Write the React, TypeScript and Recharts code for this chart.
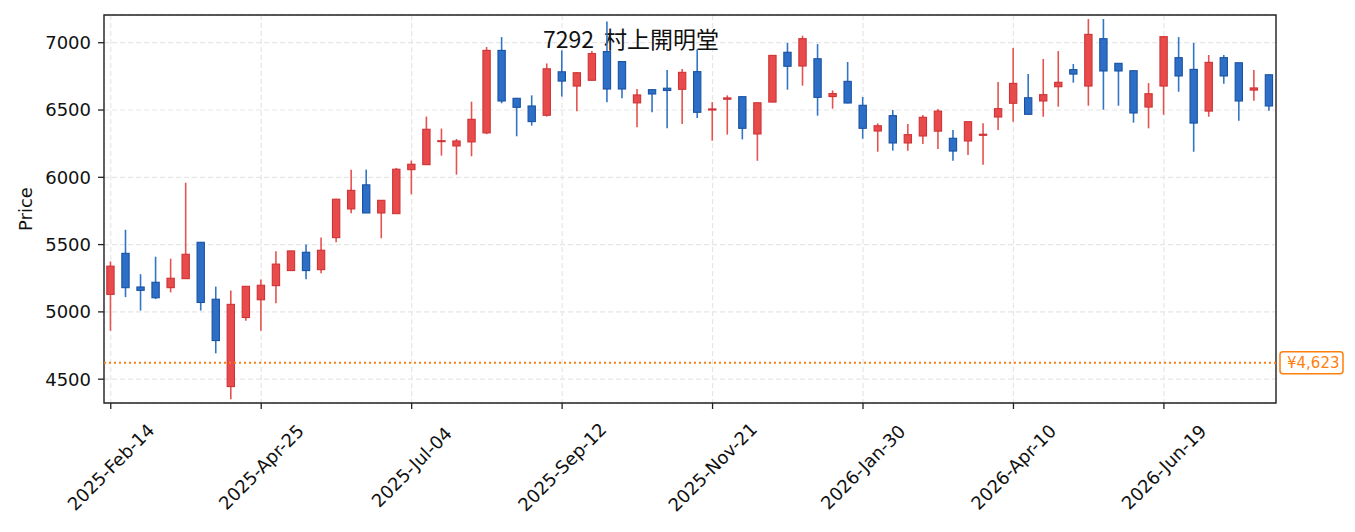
import { Bar, CartesianGrid, ComposedChart, ReferenceArea, ReferenceLine, XAxis, YAxis } from "recharts";

// weekly candles, one per index (first week 2025-Feb-14)
const opens = [
  5130, 5435, 5185, 5220, 5180, 5247, 5517, 5094, 4445, 4958, 5090, 5195, 5307, 5443, 5314, 5552, 5765, 5944, 5735, 5730,
  6057, 6094, 6265, 6233, 6263, 6330, 6943, 6587, 6530, 6461, 6784, 6678, 6721, 6934, 6860, 6553, 6651, 6662, 6654, 6785,
  6500, 6580, 6599, 6322, 6559, 6929, 6827, 6881, 6600, 6713, 6535, 6344, 6458, 6255, 6307, 6343, 6290, 6270, 6312, 6448,
  6550, 6591, 6567, 6673, 6800, 6678, 7030, 6847, 6792, 6522, 6678, 6889, 6802, 6492, 6889, 6851, 6648, 6762,
];
const highs = [
  5375, 5610, 5280, 5410, 5395, 5960, 5520, 5188, 5158, 5190, 5240, 5450, 5455, 5500, 5552, 5840, 6057, 6057, 5830, 6070,
  6124, 6451, 6362, 6285, 6562, 6968, 7042, 6590, 6609, 6846, 6943, 6778, 6938, 7158, 6860, 6656, 6655, 6797, 6805, 6951,
  6559, 6609, 6600, 6555, 6906, 6998, 7052, 6990, 6646, 6857, 6597, 6401, 6500, 6396, 6463, 6507, 6351, 6415, 6401, 6708,
  6961, 6767, 6879, 6938, 6842, 7176, 7176, 6847, 6792, 6700, 7045, 7042, 6998, 6909, 6909, 6851, 6797, 6762,
];
const lows = [
  4860, 5110, 5010, 5095, 5145, 5245, 5010, 4692, 4350, 4935, 4860, 5065, 5305, 5242, 5287, 5517, 5733, 5735, 5547, 5728,
  5874, 6094, 6161, 6020, 6156, 6320, 6550, 6305, 6384, 6451, 6600, 6491, 6715, 6558, 6587, 6372, 6483, 6364, 6396, 6441,
  6272, 6317, 6282, 6123, 6559, 6651, 6681, 6458, 6510, 6550, 6287, 6190, 6198, 6198, 6247, 6210, 6123, 6166, 6093, 6351,
  6413, 6466, 6450, 6525, 6703, 6532, 6502, 6532, 6406, 6364, 6465, 6636, 6190, 6450, 6695, 6420, 6569, 6495,
];
const closes = [
  5340, 5180, 5160, 5105, 5250, 5428, 5070, 4787, 5056, 5190, 5198, 5355, 5453, 5307, 5458, 5837, 5903, 5735, 5829, 6060,
  6097, 6357, 6272, 6270, 6431, 6943, 6567, 6520, 6414, 6806, 6715, 6777, 6919, 6656, 6656, 6612, 6619, 6645, 6780, 6483,
  6508, 6590, 6364, 6554, 6906, 6825, 7030, 6594, 6622, 6552, 6364, 6383, 6255, 6317, 6446, 6492, 6195, 6413, 6320, 6510,
  6698, 6468, 6614, 6706, 6767, 7062, 6790, 6790, 6478, 6621, 7045, 6753, 6403, 6854, 6753, 6567, 6664, 6530,
];

const tickIdx = [0, 10, 20, 30, 40, 50, 60, 70];
const tickLabels = ["2025-Feb-14", "2025-Apr-25", "2025-Jul-04", "2025-Sep-12", "2025-Nov-21", "2026-Jan-30", "2026-Apr-10", "2026-Jun-19"];
const priceTicks = [4500, 5000, 5500, 6000, 6500, 7000];
const refPrice = 4623;
const title = ["7292", "村上開明堂"];

const yDomain = [4323, 7206];
const xDomain = [-0.45, opens.length - 0.55];

const UP = { fill: "#e84b4b", edge: "#cf3336", wick: "#e5534f" };
const DOWN = { fill: "#2d6fc6", edge: "#1a52a3", wick: "#3274c6" };
const FONT = "DejaVu Sans";

const rows = opens.map((o, i) => ({ i, o, h: highs[i], l: lows[i], c: closes[i], range: [lows[i], highs[i]] }));

function Candle(props: any) {
  const { x, y, width, height, payload } = props;
  if (!payload) return null;
  const { o, h, l, c } = payload;
  const top = Math.min(y, y + height);
  const k = Math.abs(height) / (h - l);
  const py = (v: number) => top + (h - v) * k;
  const cx = x + width / 2;
  const col = c >= o ? UP : DOWN;
  const bt = py(Math.max(o, c));
  const bb = py(Math.min(o, c));
  return (
    <g>
      <line x1={cx} x2={cx} y1={py(h)} y2={py(l)} stroke={col.wick} strokeWidth={1.6} />
      <rect x={x + 0.55} y={bt} width={width - 1.1} height={Math.max(bb - bt, 0.8)} fill={col.fill} stroke={col.edge} strokeWidth={1.1} />
    </g>
  );
}

function DateTick({ x, y, payload }: any) {
  const label = tickLabels[tickIdx.indexOf(payload.value)] ?? "";
  const cy = y + 56;
  return (
    <text x={x} y={cy} transform={`rotate(-45, ${x}, ${cy})`} textAnchor="middle" dominantBaseline="central" fontFamily={FONT} fontSize={18} fill="#111">
      {label}
    </text>
  );
}

function PriceLabel({ viewBox }: any) {
  const cy = viewBox.y + viewBox.height / 2;
  const cx = viewBox.x + 25;
  return (
    <text x={cx} y={cy} transform={`rotate(-90, ${cx}, ${cy})`} textAnchor="middle" dominantBaseline="central" fontFamily={FONT} fontSize={18} fill="#111">
      Price
    </text>
  );
}

function RefTag({ viewBox }: any) {
  const x0 = viewBox.x + viewBox.width + 4;
  return (
    <g>
      <rect x={x0} y={viewBox.y - 11} width={63} height={22} rx={3} fill="#fff" stroke="#ff7f0e" strokeWidth={1.5} />
      <text x={x0 + 7} y={viewBox.y} dominantBaseline="central" fontFamily={FONT} fontSize={15} fill="#ff7f0e">
        ¥{refPrice.toLocaleString("en-US")}
      </text>
    </g>
  );
}

export default function App() {
  return (
    <div style={{ position: "absolute", left: 0, top: 0, width: 1355, height: 532, background: "#fff" }}>
      <ComposedChart width={1355} height={532} data={rows} margin={{ top: 15, right: 79, bottom: 0, left: 0 }}>
        <CartesianGrid stroke="#e6e6e6" strokeDasharray="5 3" strokeWidth={1.2} />
        <XAxis
          dataKey="i"
          type="number"
          domain={xDomain}
          ticks={tickIdx}
          allowDataOverflow
          height={129}
          axisLine={false}
          tickSize={6}
          tickLine={{ stroke: "#222", strokeWidth: 1.3 }}
          tick={<DateTick />}
        />
        <YAxis
          type="number"
          domain={yDomain}
          ticks={priceTicks}
          allowDataOverflow
          width={104}
          axisLine={false}
          tickSize={6}
          tickMargin={7}
          tickLine={{ stroke: "#222", strokeWidth: 1.3 }}
          tick={{ fontFamily: FONT, fontSize: 18, fill: "#111" }}
          label={<PriceLabel />}
        />
        <ReferenceLine y={refPrice} stroke="#ff7f0e" strokeWidth={2} strokeDasharray="2 3" label={<RefTag />} />
        <Bar dataKey="range" barSize={8.4} shape={<Candle />} isAnimationActive={false} />
        <ReferenceArea x1={xDomain[0]} x2={xDomain[1]} y1={yDomain[0]} y2={yDomain[1]} fill="none" stroke="#222" strokeWidth={1.4} strokeOpacity={1} />
        <text x={543} y={48} fontFamily="Noto Sans CJK JP" fontSize={23} fill="#111">
          <tspan>{title[0]}</tspan>
          <tspan dx={10}>{title[1]}</tspan>
        </text>
      </ComposedChart>
    </div>
  );
}
